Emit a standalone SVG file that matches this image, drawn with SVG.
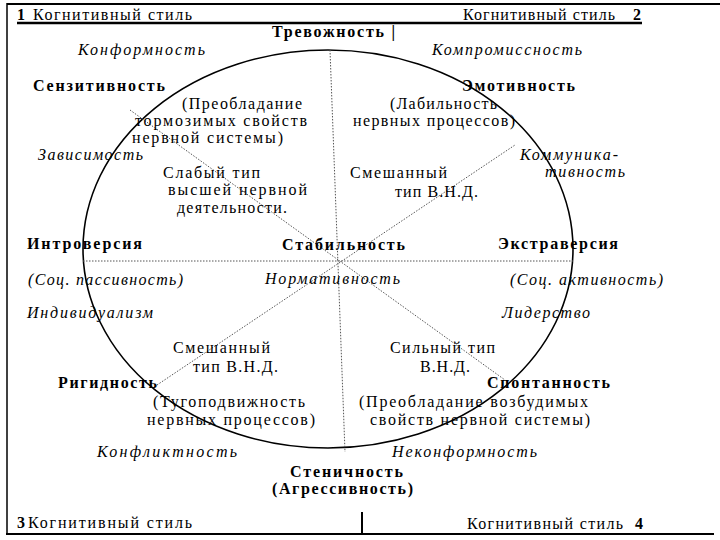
<svg xmlns="http://www.w3.org/2000/svg" width="720" height="540" viewBox="0 0 720 540">
<style>
text{font-family:"Liberation Serif","Times New Roman",serif;font-size:16px;fill:#000}
.b{font-weight:bold}
.i{font-style:italic}
.dot{stroke:#555;stroke-width:1;stroke-dasharray:1.5 1.5;fill:none}
.frame{stroke:#000;fill:none}
</style>
<rect width="720" height="540" fill="#fff"/>
<g id="frame">
<line class="frame" x1="7" y1="4" x2="720" y2="4" stroke-width="2"/>
<line class="frame" x1="7" y1="3" x2="7" y2="535" stroke-width="1.5"/>
<line class="frame" x1="6" y1="534" x2="714" y2="534" stroke-width="2"/>
<line class="frame" x1="17" y1="23" x2="642" y2="23" stroke-width="2.5"/>
<line class="frame" x1="362" y1="512" x2="362" y2="535" stroke-width="2"/>
</g>
<g id="connectors">
<ellipse cx="328" cy="249" rx="245" ry="199" fill="none" stroke="#000" stroke-width="1.6"/>
<line class="dot" x1="83" y1="261" x2="573" y2="261"/>
<line class="dot" x1="330" y1="50" x2="345" y2="452"/>
<line class="dot" x1="130" y1="110" x2="505" y2="380"/>
<line class="dot" x1="157" y1="385" x2="515" y2="145"/>
</g>
<g id="style1"><text x="17" y="20" class="b">1</text><text x="33" y="20" textLength="159">Когнитивный  стиль</text></g>
<g id="style2"><text x="463" y="20" textLength="152">Когнитивный  стиль</text><text x="633" y="20" class="b">2</text></g>
<g id="style3"><text x="17" y="528" class="b">3</text><text x="28" y="528" textLength="164">Когнитивный  стиль</text></g>
<g id="style4"><text x="467" y="529" textLength="156">Когнитивный  стиль</text><text x="635" y="529" class="b">4</text></g>
<g id="trevozhnost"><text x="272" y="37" class="b" textLength="123">Тревожность |</text></g>
<g id="konformnost"><text x="78" y="55" class="i" textLength="127">Конформность</text></g>
<g id="kompromissnost"><text x="432" y="55" class="i" textLength="150">Компромиссность</text></g>
<g id="senzitivnost"><text x="33" y="91" class="b" textLength="132">Сензитивность</text></g>
<g id="emotivnost"><text x="462" y="91" class="b" textLength="113">Эмотивность</text></g>
<g id="tormoz">
<text x="182" y="109" textLength="120">(Преобладание</text>
<text x="135" y="126" textLength="172">тормозимых  свойств</text>
<text x="132" y="143" textLength="151">нервной  системы)</text>
</g>
<g id="labilnost">
<text x="390" y="109" textLength="107">(Лабильность</text>
<text x="353" y="126" textLength="162">нервных процессов)</text>
</g>
<g id="zavisimost"><text x="38" y="160" class="i" textLength="105">Зависимость</text></g>
<g id="kommunikativnost">
<text x="520" y="160" class="i" textLength="98">Коммуника-</text>
<text x="545" y="177" class="i" textLength="80">тивность</text>
</g>
<g id="slabyi">
<text x="163" y="178" textLength="97">Слабый тип</text>
<text x="168" y="195" textLength="139">высшей  нервной</text>
<text x="177" y="213" textLength="110">деятельности.</text>
</g>
<g id="smeshannyi1">
<text x="350" y="178" textLength="97">Смешанный</text>
<text x="395" y="197" textLength="83">тип В.Н.Д.</text>
</g>
<g id="introversiya"><text x="27" y="249" class="b" textLength="115">Интроверсия</text></g>
<g id="stabilnost"><text x="282" y="250" class="b" textLength="123">Стабильность</text></g>
<g id="ekstraversiya"><text x="498" y="249" class="b" textLength="120">Экстраверсия</text></g>
<g id="passivnost"><text x="28" y="285" class="i" textLength="155">(Соц. пассивность)</text></g>
<g id="normativnost"><text x="265" y="284" class="i" textLength="135">Нормативность</text></g>
<g id="aktivnost"><text x="510" y="285" class="i" textLength="153">(Соц. активность)</text></g>
<g id="individualizm"><text x="27" y="318" class="i" textLength="126">Индивидуализм</text></g>
<g id="liderstvo"><text x="502" y="318" class="i" textLength="88">Лидерство</text></g>
<g id="smeshannyi2">
<text x="173" y="353" textLength="97">Смешанный</text>
<text x="193" y="372" textLength="85">тип В.Н.Д.</text>
</g>
<g id="silnyi">
<text x="390" y="353" textLength="105">Сильный тип</text>
<text x="420" y="372" textLength="50">В.Н.Д.</text>
</g>
<g id="rigidnost"><text x="58" y="388" class="b" textLength="99">Ригидность</text></g>
<g id="spontannost"><text x="487" y="388" class="b" textLength="123">Спонтанность</text></g>
<g id="tugopodvizhnost">
<text x="153" y="407" textLength="152">(Тугоподвижность</text>
<text x="147" y="425" textLength="168">нервных   процессов)</text>
</g>
<g id="vozbudimye">
<text x="359" y="407" textLength="229">(Преобладание возбудимых</text>
<text x="370" y="425" textLength="220">свойств нервной  системы)</text>
</g>
<g id="konfliktnost"><text x="97" y="457" class="i" textLength="140">Конфликтность</text></g>
<g id="nekonformnost"><text x="392" y="457" class="i" textLength="145">Неконформность</text></g>
<g id="stenichnost">
<text x="290" y="477" class="b" textLength="113">Стеничность</text>
<text x="272" y="494" class="b" textLength="141">(Агрессивность)</text>
</g>
</svg>
